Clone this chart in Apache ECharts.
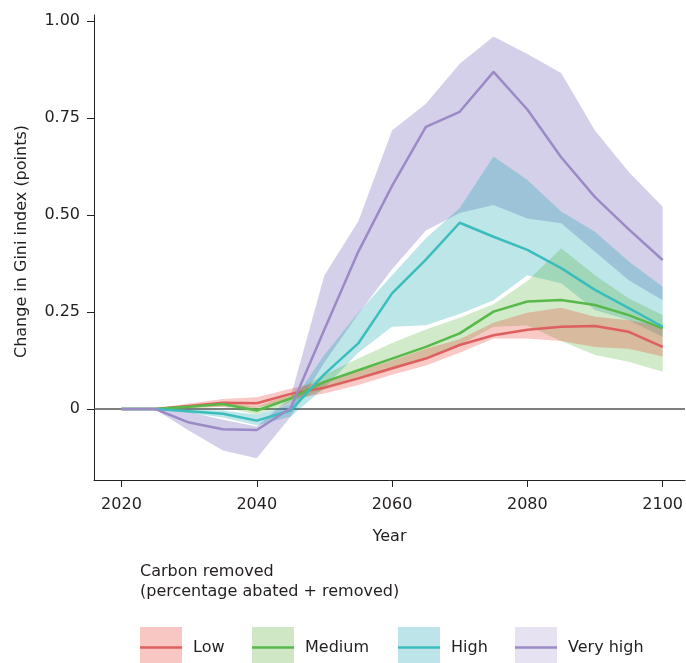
<!DOCTYPE html>
<html>
<head>
<meta charset="utf-8">
<script src="https://cdn.jsdelivr.net/npm/echarts@6/dist/echarts.min.js"></script>
<style>
html,body{margin:0;padding:0;background:#fff;}
#chart{width:686px;height:663px;}
</style>
</head>
<body>
<div id="chart"></div>
<script>
const years = [2020,2025,2030,2035,2040,2045,2050,2055,2060,2065,2070,2075,2080,2085,2090,2095,2100];
const categories = ['Low','Medium','High','Very high'];
const xTicks = [2020,2040,2060,2080,2100];
const yTicks = [0,0.25,0.5,0.75,1];

const lowMid   = [0,0,0.008,0.016,0.015,0.039,0.055,0.079,0.105,0.13,0.165,0.19,0.204,0.212,0.214,0.199,0.16];
const lowUpper = [0,0.002,0.014,0.026,0.03,0.052,0.072,0.097,0.125,0.155,0.18,0.222,0.248,0.261,0.238,0.229,0.212];
const lowLower = [0,-0.002,0.003,0.006,0.003,0.025,0.04,0.062,0.088,0.112,0.145,0.182,0.182,0.175,0.16,0.155,0.135];

const medMid   = [0,0,0.006,0.013,-0.004,0.027,0.07,0.1,0.13,0.16,0.195,0.251,0.277,0.281,0.268,0.242,0.208];
const medUpper = [0,0.002,0.01,0.018,0.005,0.04,0.088,0.13,0.17,0.205,0.235,0.27,0.33,0.414,0.345,0.285,0.242];
const medLower = [0,-0.002,0.002,0.006,-0.015,0.015,0.05,0.075,0.1,0.13,0.165,0.212,0.215,0.175,0.139,0.122,0.096];

const highMid   = [0,0,-0.006,-0.012,-0.03,-0.004,0.09,0.169,0.298,0.385,0.48,0.444,0.41,0.363,0.307,0.26,0.212];
const highUpper = [0,0.001,-0.001,-0.004,-0.015,0.012,0.14,0.248,0.345,0.44,0.518,0.651,0.59,0.509,0.457,0.38,0.315];
const highLower = [0,-0.001,-0.01,-0.022,-0.042,-0.02,0.055,0.145,0.212,0.216,0.245,0.28,0.345,0.324,0.255,0.229,0.186];

const vhMid   = [0,0,-0.035,-0.052,-0.054,0.002,0.205,0.405,0.575,0.727,0.766,0.869,0.772,0.649,0.546,0.463,0.384];
const vhUpper = [0,0.001,-0.008,-0.028,-0.045,0.03,0.345,0.483,0.718,0.787,0.89,0.96,0.915,0.866,0.718,0.611,0.521];
const vhLower = [0,-0.001,-0.056,-0.107,-0.127,-0.02,0.12,0.245,0.36,0.46,0.505,0.526,0.491,0.479,0.405,0.332,0.28];

const lineColors  = ['#de5f5f','#58b94a','#3cbdbd','#9b8ac5'];
const bandColors  = ['rgba(235,60,50,0.28)','rgba(70,170,40,0.25)','rgba(0,160,170,0.26)','rgba(100,85,180,0.28)'];
const swatchColors = ['#f8c7c3','#d0e7c5','#bde5e9','#e6e2f1'];

const mids   = [lowMid, medMid, highMid, vhMid];
const uppers = [lowUpper, medUpper, highUpper, vhUpper];
const lowers = [lowLower, medLower, highLower, vhLower];

const FONT = 'DejaVu Sans';
const TXT = '#231f20';

function bandSeries(k) {
  const data = years.map((y, i) => [y, lowers[k][i], uppers[k][i]]);
  return {
    type: 'custom', name: categories[k] + ' range', silent: true, z: 2,
    data: data,
    encode: { x: 0, y: [1, 2] },
    renderItem: function (params, api) {
      if (params.dataIndex !== 0) return null;
      const top = data.map(d => api.coord([d[0], d[2]]));
      const bot = data.map(d => api.coord([d[0], d[1]])).reverse();
      return {
        type: 'polygon',
        shape: { points: top.concat(bot) },
        style: { fill: bandColors[k], stroke: null }
      };
    }
  };
}

const series = [];
[3, 2, 1, 0].forEach(k => series.push(bandSeries(k)));
[0, 1, 2, 3].forEach(k => {
  series.push({
    type: 'line', name: categories[k],
    data: years.map((y, i) => [y, mids[k][i]]),
    symbol: 'none', silent: true, z: 3,
    lineStyle: { color: lineColors[k], width: 2.5 }
  });
});
series[4].markLine = {
  silent: true, symbol: 'none', z: 1, animation: false,
  label: { show: false },
  lineStyle: { color: '#555', width: 1.5, type: 'solid' },
  data: [{ yAxis: 0 }]
};

const legendX = [140, 252, 398, 515];
const graphics = [
  { type: 'text', left: 140, top: 564, style: { text: 'Carbon removed', font: '16px "' + FONT + '"', fill: TXT } },
  { type: 'text', left: 140, top: 584, style: { text: '(percentage abated + removed)', font: '16px "' + FONT + '"', fill: TXT } }
];
categories.forEach((c, k) => {
  const x = legendX[k];
  graphics.push({ type: 'rect', shape: { x: x, y: 627, width: 42, height: 36 }, style: { fill: swatchColors[k] }, silent: true });
  graphics.push({ type: 'line', shape: { x1: x, y1: 647.5, x2: x + 42, y2: 647.5 }, style: { stroke: lineColors[k], lineWidth: 2.7 }, silent: true });
  graphics.push({ type: 'text', x: x + 53, y: 648, style: { text: c, font: '16px "' + FONT + '"', fill: TXT, verticalAlign: 'middle', align: 'left' }, silent: true });
});

const chart = echarts.init(document.getElementById('chart'), null, { renderer: 'canvas' });
chart.setOption({
  animation: false,
  backgroundColor: '#fff',
  textStyle: { fontFamily: FONT },
  grid: { left: 94, right: 0, top: 15, bottom: 183, containLabel: false },
  xAxis: {
    type: 'value', min: 2015.94, max: 2103.31,
    name: 'Year', nameLocation: 'middle', nameGap: 49,
    nameTextStyle: { fontSize: 16, color: TXT, fontFamily: FONT },
    axisLine: { onZero: false, lineStyle: { color: '#222', width: 1 } },
    axisTick: { show: true, length: 7, customValues: xTicks, lineStyle: { color: '#222' } },
    axisLabel: { customValues: xTicks, margin: 17, fontSize: 16, color: TXT, fontFamily: FONT, formatter: v => String(v) },
    splitLine: { show: false }
  },
  yAxis: {
    type: 'value', min: -0.183, max: 1.0155,
    name: 'Change in Gini index (points)', nameLocation: 'middle', nameGap: 64,
    nameTextStyle: { fontSize: 16, color: TXT, fontFamily: FONT, padding: [0, 0, 0, 12] },
    axisLine: { show: true, lineStyle: { color: '#222', width: 1 } },
    axisTick: { show: true, length: 7, customValues: yTicks, lineStyle: { color: '#222' } },
    axisLabel: {
      customValues: yTicks, margin: 14, fontSize: 16, color: TXT, fontFamily: FONT,
      formatter: v => (v === 0 ? '0' : v.toFixed(2))
    },
    splitLine: { show: false }
  },
  series: series,
  graphic: graphics
});
</script>
</body>
</html>
